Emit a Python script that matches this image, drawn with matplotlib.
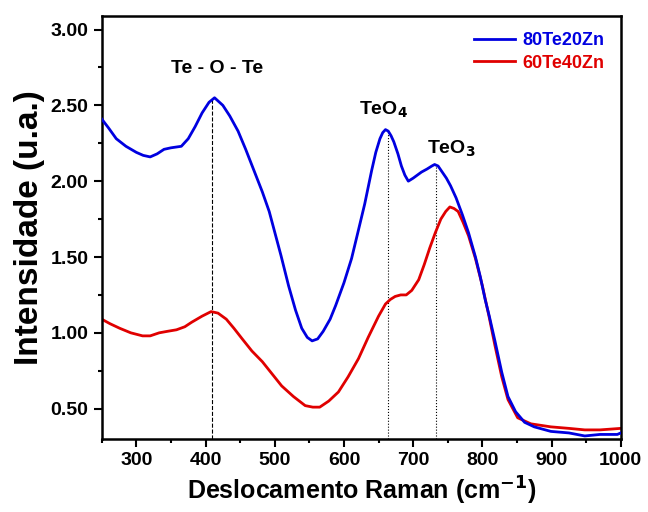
import numpy as np
import matplotlib
matplotlib.use("Agg")
import matplotlib.pyplot as plt
from matplotlib.ticker import MultipleLocator, FormatStrFormatter

plt.rcParams['font.family'] = ['Liberation Sans', 'DejaVu Sans']
plt.rcParams['font.weight'] = 'bold'
plt.rcParams['mathtext.default'] = 'bf'

# Raman spectra
x_80 = [250, 260, 271, 285, 300, 310, 320, 330, 340, 350, 365, 375, 385, 395, 405, 413,
        425, 435, 447, 458, 470, 482, 492, 509, 520, 530, 539, 547, 554, 562, 570, 580,
        588, 600, 611, 620, 630, 640, 646, 652, 656, 660, 664, 668, 672, 678, 683, 688,
        693, 700, 706, 712, 720, 727, 731, 736, 742, 748, 754, 762, 771, 780, 790, 797,
        804, 810, 818, 828, 837, 848, 861, 875, 899, 925, 948, 970, 995, 1000]
y_80 = [2.41, 2.35, 2.28, 2.23, 2.19, 2.17, 2.16, 2.18, 2.21, 2.22, 2.23, 2.28, 2.36, 2.45,
        2.52, 2.55, 2.50, 2.43, 2.33, 2.21, 2.07, 1.93, 1.80, 1.51, 1.31, 1.15, 1.03, 0.97,
        0.947, 0.96, 1.01, 1.09, 1.18, 1.33, 1.49, 1.66, 1.85, 2.07, 2.19, 2.28, 2.32, 2.34,
        2.33, 2.30, 2.26, 2.18, 2.10, 2.04, 2.00, 2.02, 2.04, 2.06, 2.08, 2.10, 2.11, 2.10,
        2.06, 2.02, 1.97, 1.89, 1.78, 1.66, 1.50, 1.37, 1.22, 1.11, 0.95, 0.74, 0.58, 0.48,
        0.41, 0.38, 0.35, 0.34, 0.32, 0.33, 0.33, 0.34]

x_60 = [250, 262, 276, 292, 309, 320, 333, 345, 358, 370, 380, 395, 408, 418, 430, 441,
        453, 467, 482, 496, 510, 527, 544, 555, 565, 578, 592, 606, 621, 635, 650, 660,
        667, 674, 682, 690, 698, 708, 716, 724, 732, 740, 747, 753, 759, 765, 772, 780,
        790, 800, 810, 818, 828, 837, 851, 870, 899, 925, 948, 970, 1000]
y_60 = [1.09, 1.06, 1.03, 1.00, 0.98, 0.98, 1.00, 1.01, 1.02, 1.04, 1.07, 1.11, 1.14, 1.13,
        1.09, 1.03, 0.96, 0.88, 0.81, 0.73, 0.65, 0.58, 0.52, 0.51, 0.51, 0.55, 0.61, 0.71,
        0.83, 0.97, 1.11, 1.19, 1.22, 1.24, 1.25, 1.25, 1.28, 1.35, 1.45, 1.56, 1.66, 1.75,
        1.80, 1.83, 1.82, 1.80, 1.73, 1.64, 1.49, 1.31, 1.10, 0.92, 0.71, 0.56, 0.44, 0.40,
        0.38, 0.37, 0.36, 0.36, 0.37]

# band markers: (position, peak height, label, linestyle)
bands = [(410, 2.55, 'Te - O - Te', '--'),
         (663, 2.34, 'TeO$_4$', ':'),
         (733, 2.11, 'TeO$_3$', ':')]
label_pos = [(417, 2.74), (657, 2.47), (755, 2.21)]

fig = plt.figure(figsize=(6.48, 5.12), dpi=100)
ax = fig.add_axes([0.157, 0.1426, 0.801, 0.8264])

ax.plot(x_80, y_80, color='#0000e0', lw=2, label='80Te20Zn', zorder=3)
ax.plot(x_60, y_60, color='#e00000', lw=2, label='60Te40Zn', zorder=2)

for (xb, yb, txt, ls), (tx, ty) in zip(bands, label_pos):
    ax.plot([xb, xb], [0.3, yb], color='black', lw=0.8, ls=ls, zorder=1)
    ax.text(tx, ty, txt, ha='center', va='center', fontsize=14, fontweight='bold')

ax.set_xlim(250, 1000)
ax.set_ylim(0.30, 3.09)
ax.xaxis.set_major_locator(MultipleLocator(100))
ax.xaxis.set_minor_locator(MultipleLocator(50))
ax.yaxis.set_major_locator(MultipleLocator(0.5))
ax.yaxis.set_minor_locator(MultipleLocator(0.25))
ax.yaxis.set_major_formatter(FormatStrFormatter('%.2f'))

ax.tick_params(which='major', direction='out', length=5.5, width=1.5, labelsize=14, pad=4)
ax.tick_params(which='minor', direction='out', length=3, width=1.5)
for s in ax.spines.values():
    s.set_linewidth(1.8)

ax.set_xlabel('Deslocamento Raman (cm$^{-1}$)', fontsize=18, fontweight='bold', labelpad=4)
ax.set_ylabel('Intensidade (u.a.)', fontsize=24, fontweight='bold', labelpad=4)

leg = ax.legend(loc='upper right', frameon=False, fontsize=13, handlelength=2.3,
                handletextpad=0.4, labelspacing=0.3, borderaxespad=0.5,
                labelcolor='linecolor')
for t in leg.get_texts():
    t.set_fontweight('bold')

fig.savefig('out.png', dpi=100)
